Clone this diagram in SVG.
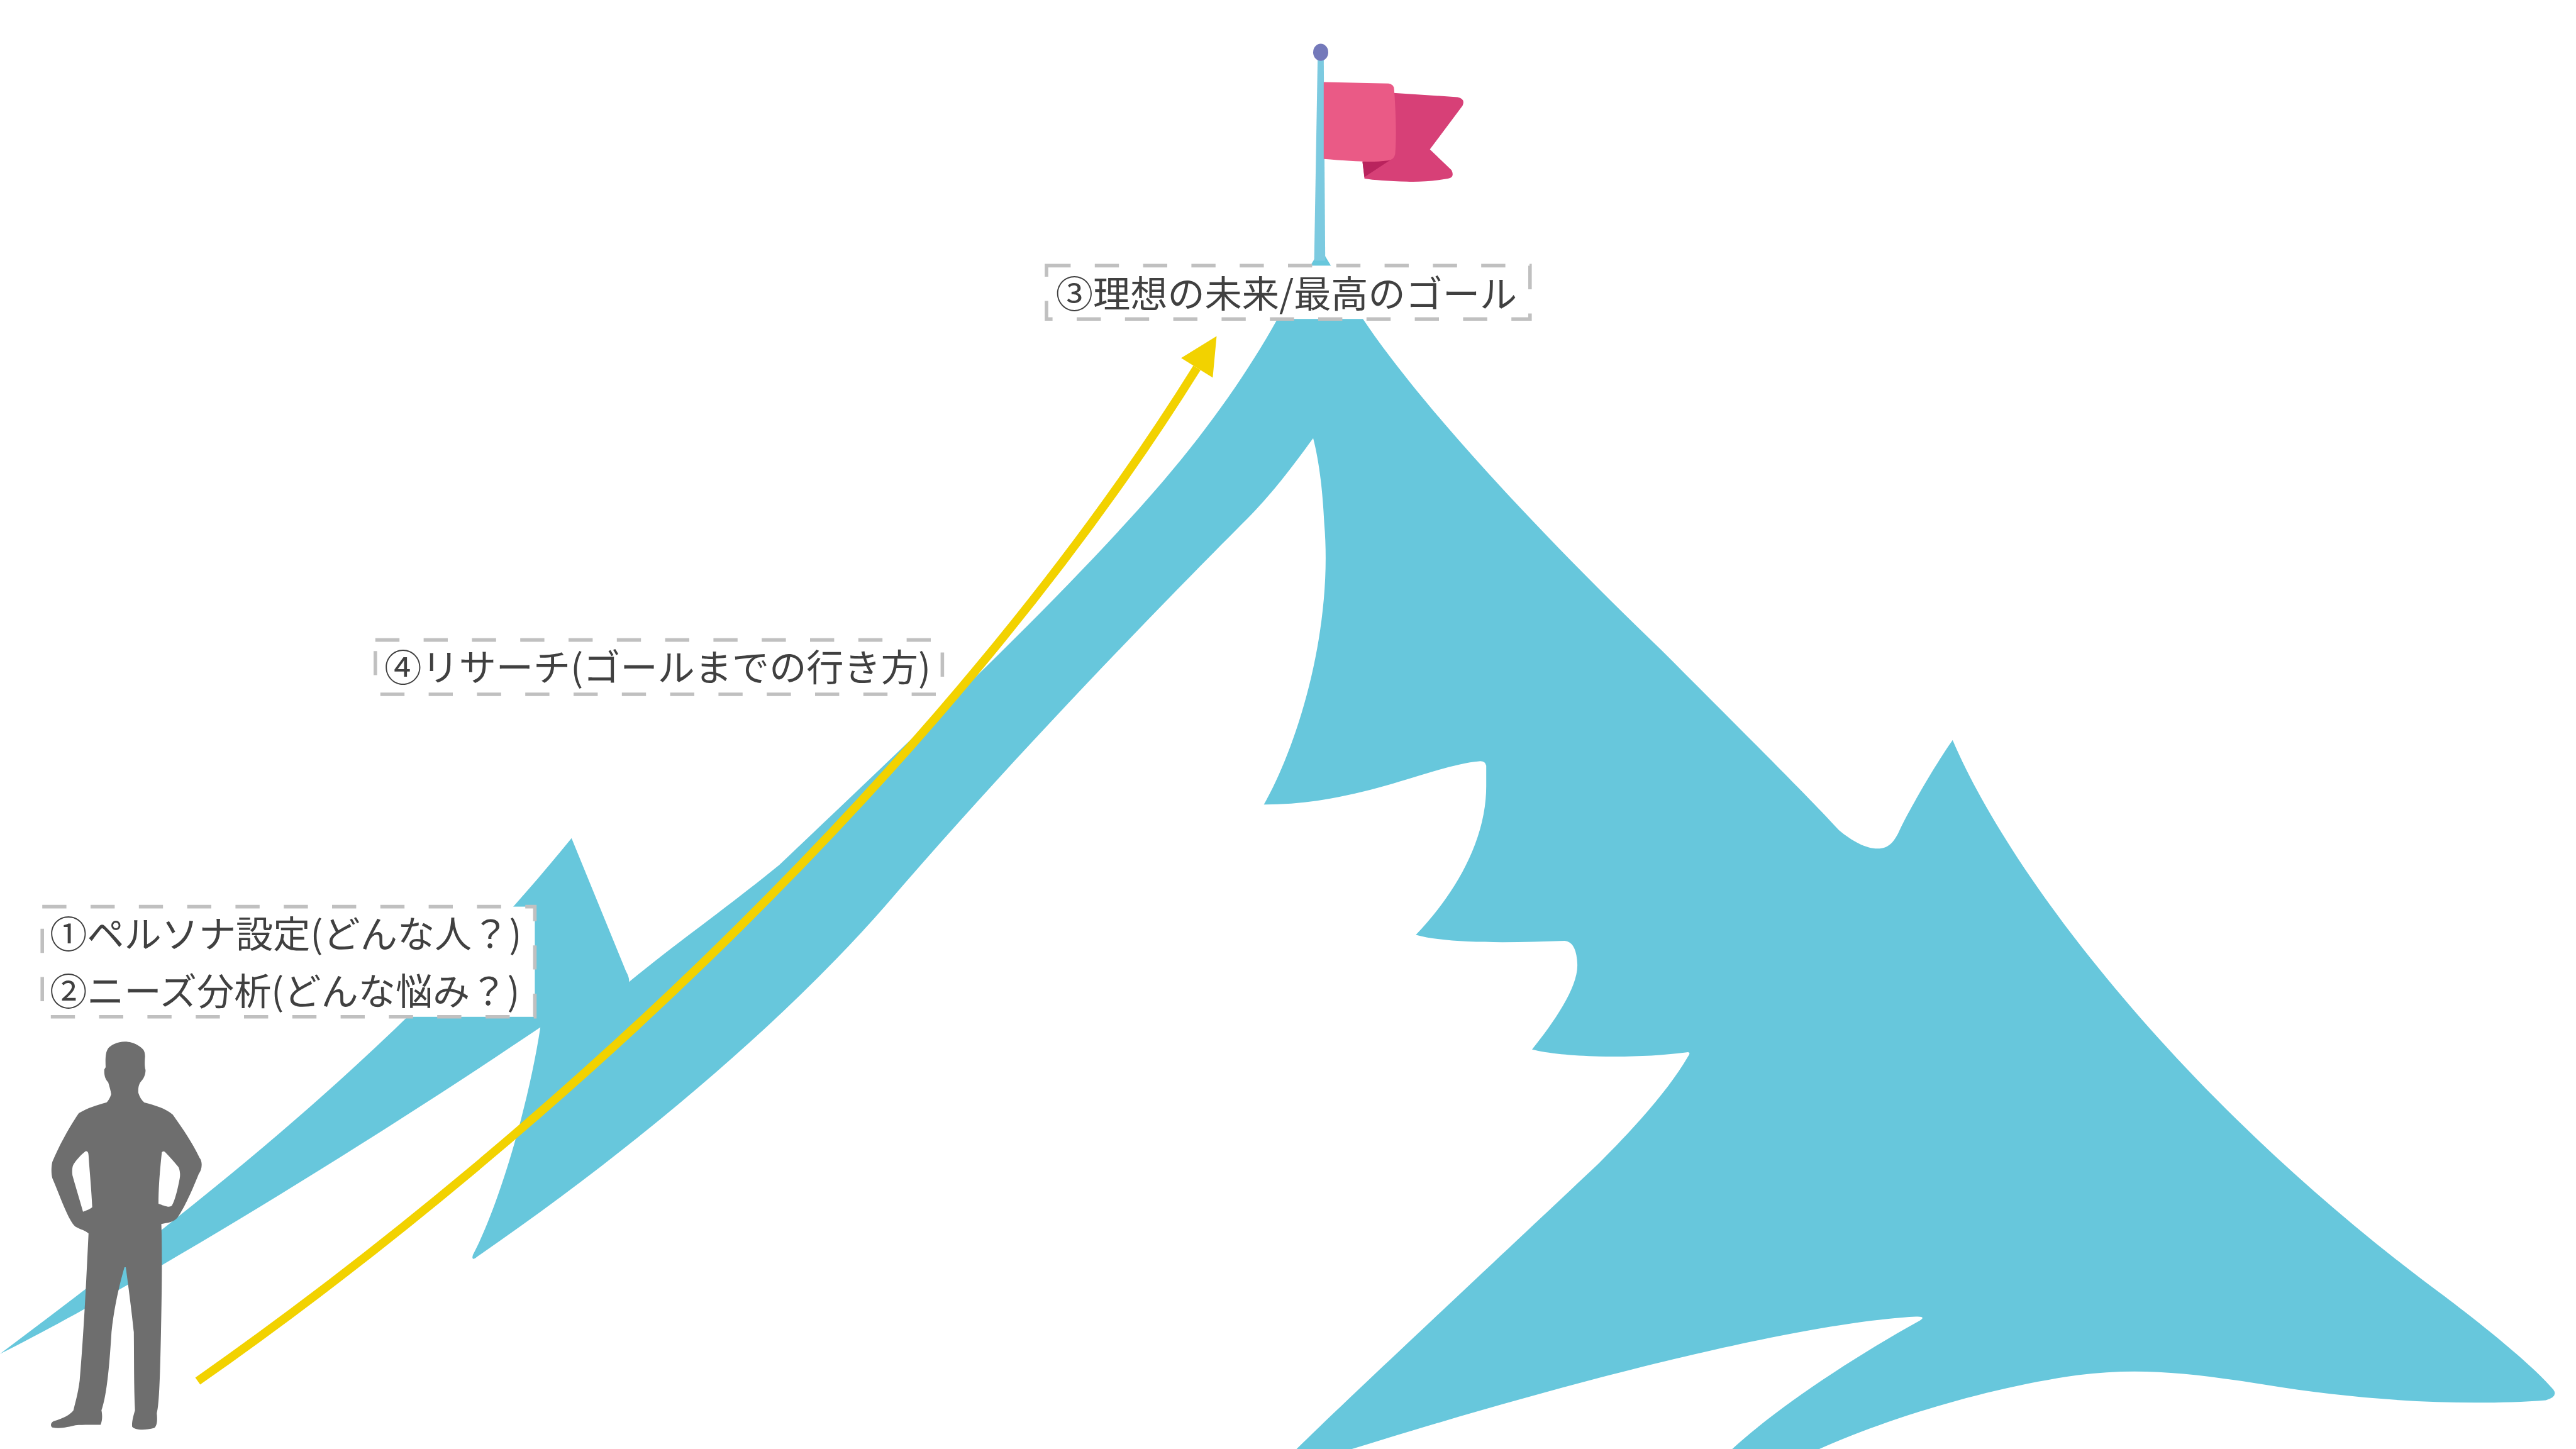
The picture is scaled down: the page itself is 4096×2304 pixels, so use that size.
<svg xmlns="http://www.w3.org/2000/svg" width="4096" height="2304" viewBox="0 0 4096 2304">
  <defs>
    <style>
      .mtn { fill: #67c7dc; }
      .pole { fill: #7ccae0; }
      .knob { fill: #7479ba; }
      .flag-front { fill: #ea5a86; }
      .flag-back { fill: #d74077; }
      .flag-fold { fill: #b9235d; }
      .person { fill: #6e6e6e; fill-rule: evenodd; }
      .box { fill: #ffffff; stroke: #c0c0c0; stroke-width: 7; stroke-dasharray: 48 48; }
      .lbl { font-family: 'Noto Sans CJK JP', 'Noto Sans CJK SC', sans-serif; font-size: 74px; fill: #404040; }
      .route { fill: none; stroke: #f2d200; stroke-width: 17; stroke-linecap: butt; }
    </style>
    <marker id="arrowhead" markerUnits="userSpaceOnUse" viewBox="0 0 74 74" markerWidth="74" markerHeight="74" refX="0" refY="37" orient="auto" overflow="visible">
      <path d="M0,0 L74,37 L0,74 Z" fill="#f2d200"/>
    </marker>
  </defs>

  <rect width="4096" height="2304" fill="#ffffff"/>

  <!-- drawing laid out on a 5120x2880 grid, scaled to the canvas -->
  <g transform="scale(0.8)">

    <!-- mountain: one silhouette, snow left as background -->
    <g id="mountain">
      <path class="mtn" d="
        M 0,2691
        C 400,2390 800,2080 1136,1666
        L 1244,1930
        Q 1252,1945 1250,1952
        C 1330,1885 1450,1800 1549,1719
        C 1800,1480 2100,1200 2300,970
        C 2400,855 2480,740 2539,634
        L 2618,506
        Q 2625,494 2632,506
        L 2709,634
        C 2820,800 3050,1050 3300,1290
        C 3450,1440 3600,1590 3655,1650
        C 3685,1675 3715,1690 3740,1686
        C 3758,1683 3768,1668 3778,1645
        C 3800,1600 3850,1515 3881,1471
        C 4000,1750 4350,2200 4850,2570
        C 4950,2645 5040,2720 5075,2762
        Q 5085,2776 5060,2783
        C 4900,2795 4700,2785 4500,2752
        C 4350,2728 4250,2718 4130,2733
        C 3950,2758 3750,2820 3616,2880
        L 3443,2880
        C 3530,2800 3680,2700 3812,2627
        Q 3832,2616 3808,2617
        C 3650,2625 3300,2690 2687,2880
        L 2577,2880
        C 2700,2760 3000,2480 3180,2310
        C 3260,2230 3320,2160 3355,2100
        Q 3363,2089 3350,2092
        C 3250,2105 3110,2102 3045,2086
        C 3090,2030 3138,1960 3135,1915
        Q 3133,1872 3110,1870
        C 3000,1874 2880,1876 2814,1858
        C 2880,1790 2955,1680 2954,1560
        L 2954,1522
        Q 2952,1512 2940,1513
        C 2850,1520 2700,1600 2512,1599
        C 2580,1480 2650,1250 2632,1040
        C 2628,960 2620,910 2610,871
        C 2560,940 2520,990 2480,1030
        C 2300,1210 2000,1520 1760,1800
        C 1550,2040 1250,2290 948,2498
        Q 936,2508 940,2494
        C 990,2400 1050,2200 1074,2042
        C 750,2260 300,2540 0,2691 Z"/>
    </g>

    <!-- summit flag -->
    <g id="flag">
      <path class="pole" d="M 2619,112 L 2631,112 L 2634,518 L 2612,518 Z"/>
      <ellipse class="knob" cx="2625" cy="104" rx="15" ry="17"/>
      <path class="flag-back" d="M 2760,184 L 2897,193 Q 2913,196 2907,210 L 2842,297 L 2885,338 Q 2892,352 2878,355 C 2850,360 2820,362 2796,361 C 2760,360 2730,358 2712,355 L 2708,320 L 2760,300 Z"/>
      <path class="flag-fold" d="M 2708,322 L 2768,315 L 2712,352 Z"/>
      <path class="flag-front" d="M 2631,163 L 2760,166 Q 2771,168 2771,178 C 2774,220 2776,268 2773,306 Q 2771,318 2759,319 C 2740,321 2725,322 2711,321 C 2680,320 2655,318 2631,316 Z"/>
    </g>

    <!-- standing figure -->
    <g id="person" transform="translate(0,2030) scale(0.3333,0.537)">
      <path class="person" d="
        M 745,75
        C 700,75 660,88 645,100
        C 628,115 628,140 630,170
        L 622,178
        C 620,200 628,215 645,225
        C 652,240 660,255 663,270
        C 655,285 645,295 635,300
        C 580,310 520,320 470,340
        C 420,385 360,450 312,520
        C 305,540 305,565 312,580
        C 360,650 410,740 450,760
        C 480,770 510,775 528,785
        C 515,950 500,1150 475,1330
        C 465,1380 445,1420 438,1440
        C 420,1455 380,1470 320,1480
        C 300,1485 300,1500 312,1503
        C 360,1510 410,1500 450,1495
        C 500,1492 560,1494 600,1493
        C 612,1475 610,1455 605,1440
        C 640,1380 655,1250 665,1150
        C 680,1060 710,980 742,910
        L 750,910
        C 770,1000 790,1100 798,1150
        C 800,1250 798,1350 805,1440
        C 795,1460 785,1485 788,1500
        C 800,1512 860,1515 920,1505
        C 940,1495 938,1470 935,1450
        C 950,1420 955,1300 960,1150
        C 965,1000 968,850 962,750
        C 1000,745 1035,745 1060,725
        C 1100,690 1150,620 1185,565
        C 1205,550 1210,520 1190,505
        C 1140,440 1080,390 1030,345
        C 980,320 920,310 860,300
        C 845,292 832,280 825,265
        C 822,245 830,230 842,222
        C 860,210 868,195 868,180
        C 862,170 862,150 865,130
        C 865,105 850,100 820,88
        C 800,80 770,75 745,75 Z
        M 495,705
        C 470,650 445,600 432,570
        C 428,550 432,535 440,528
        C 465,505 490,490 512,480
        C 522,480 527,485 528,495
        C 535,560 545,620 550,688
        C 540,695 515,700 495,705 Z
        M 945,675
        C 945,620 952,560 965,485
        C 970,480 978,480 985,484
        C 1010,500 1040,520 1065,540
        C 1075,555 1075,570 1072,580
        C 1060,620 1045,660 1025,682
        C 1010,690 990,685 945,675 Z"/>
    </g>

    <!-- route to the summit -->
    <g id="connectors">
      <path class="route" d="M 393,2745 C 1100,2250 1900,1500 2379,731" marker-end="url(#arrowhead)"/>
    </g>

    <!-- labels -->
    <g id="label-start">
      <rect class="box" x="84" y="1802" width="979" height="219"/>
      <text class="lbl" x="99" y="1884">①ペルソナ設定(どんな人？)</text>
      <text class="lbl" x="99" y="1997">②ニーズ分析(どんな悩み？)</text>
    </g>

    <g id="label-research">
      <rect class="box" x="746" y="1272" width="1127" height="108"/>
      <text class="lbl" x="1307" y="1354" text-anchor="middle">④リサーチ(ゴールまでの行き方)</text>
    </g>

    <g id="label-goal">
      <rect class="box" x="2080" y="528" width="961" height="106"/>
      <text class="lbl" x="2557" y="611" text-anchor="middle">③理想の未来/最高のゴール</text>
    </g>
  </g>
</svg>
